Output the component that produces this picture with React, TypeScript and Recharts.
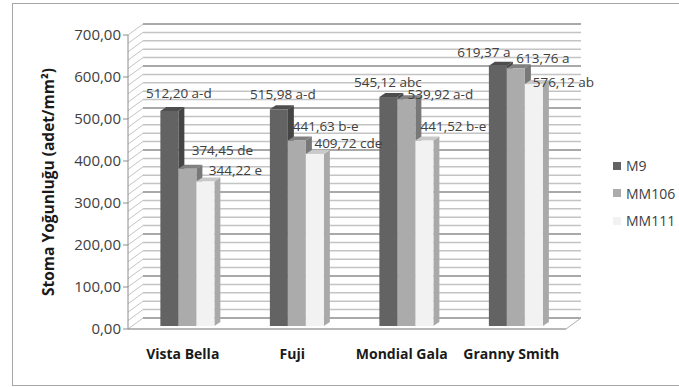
import React from 'react';
import { BarChart, Bar, XAxis, YAxis, CartesianGrid, Legend, LabelList } from 'recharts';

const cultivars = ['Vista Bella', 'Fuji', 'Mondial Gala', 'Granny Smith'];
const m9Values = [512.2, 515.98, 545.12, 619.37];
const mm106Values = [374.45, 441.63, 539.92, 613.76];
const mm111Values = [344.22, 409.72, 441.52, 576.12];
const m9Groups = ['a-d', 'a-d', 'abc', 'a'];
const mm106Groups = ['de', 'b-e', 'a-d', 'a'];
const mm111Groups = ['e', 'cde', 'b-e', 'ab'];
const yTicks = [0, 100, 200, 300, 400, 500, 600, 700];
const yMax = 700;
const gridValues = [
  0, 20, 40, 60, 80, 100, 120, 140, 160, 180, 200, 220, 240, 260, 280, 300, 320, 340, 360,
  380, 400, 420, 440, 460, 480, 500, 520, 540, 560, 580, 600, 620, 640, 660, 680, 700,
];

const chartData = cultivars.map((name, i) => ({
  name,
  m9: m9Values[i],
  mm106: mm106Values[i],
  mm111: mm111Values[i],
}));

const FONT = '"Open Sans", sans-serif';
const WALL_DX = 15;
const WALL_DY = -11;
const PLOT_BOTTOM = 329;

// label nudges per cultivar, the labels are placed by hand to dodge the neighbouring bars
const m9LabelShift = [
  [14.5, -19],
  [9, -17],
  [4.5, -17],
  [-9, -15],
];
const mm106LabelShift = [
  [40, -20],
  [33.75, -16.5],
  [39, -7],
  [32, -12],
];
const mm111LabelShift = [
  [35, -13],
  [38.5, -13],
  [34, -16.6],
  [34.5, -4],
];

const formatValue = (v: number) => v.toFixed(2).replace('.', ',');

const Bar3D = (colors: { front: string; top: string; side: string }) => (props: any) => {
  const { x, y, width, height } = props;
  // the bars stand a little inside the floor, so everything is moved up and to the right
  const left = x + 5;
  const right = left + width;
  const top = y - 3;
  const bottom = y + height - 3;
  const dx = 6;
  const dy = -4;
  return (
    <g>
      <polygon
        points={`${right},${top} ${right + dx},${top + dy} ${right + dx},${bottom + dy} ${right},${bottom}`}
        fill={colors.side}
      />
      <polygon
        points={`${left},${top} ${left + dx},${top + dy} ${right + dx},${top + dy} ${right},${top}`}
        fill={colors.top}
      />
      <rect x={left} y={top} width={width} height={height} fill={colors.front} />
    </g>
  );
};

const valueLabel = (groups: string[], shifts: number[][]) => (props: any) => {
  const { x, y, width, index, value } = props;
  const [dx, dy] = shifts[index];
  return (
    <text
      x={x + width / 2 + dx}
      y={y + dy}
      textAnchor="middle"
      dominantBaseline="middle"
      fontFamily={FONT}
      fontSize={13.5}
      fill="#404040"
    >
      {`${formatValue(value)} ${groups[index]}`}
    </text>
  );
};

// back wall line plus its diagonal on the side wall
const WallLine = (props: any) => {
  const { x1, x2, y1 } = props;
  const step = Math.round((PLOT_BOTTOM - y1) / 8.4);
  const stroke = step % 5 === 0 ? '#8c8c8c' : '#c4c4c4';
  return (
    <g>
      <line x1={x1} y1={y1} x2={x1 + WALL_DX} y2={y1 + WALL_DY} stroke="#c4c4c4" strokeWidth={1} />
      <line x1={x1 + WALL_DX} y1={y1 + WALL_DY} x2={x2 + WALL_DX} y2={y1 + WALL_DY} stroke={stroke} strokeWidth={1.5} />
      {step === 0 && (
        <line x1={x2} y1={y1} x2={x2 + WALL_DX} y2={y1 + WALL_DY} stroke="#b0b0b0" strokeWidth={1} />
      )}
    </g>
  );
};

const legendColors: Record<string, string> = { M9: '#636363', MM106: '#ababab', MM111: '#f2f2f2' };

const LegendBox = ({ payload }: any) => (
  <div style={{ fontFamily: FONT, fontSize: 14, color: '#404040' }}>
    {(payload || []).map((entry: any) => (
      <div key={entry.value} style={{ display: 'flex', alignItems: 'center', height: 27.5 }}>
        <span
          style={{ width: 8, height: 8, marginRight: 5, background: legendColors[entry.value] }}
        />
        {entry.value}
      </div>
    ))}
  </div>
);

const App: React.FC = () => {
  return (
    <div style={{ position: 'absolute', left: 0, top: 0, width: 679, height: 387, overflow: 'hidden', background: '#fff' }}>
      <div
        style={{
          position: 'absolute',
          left: 12,
          top: 3,
          width: 680,
          height: 381,
          border: '1px solid #a6a6a6',
        }}
      />
      <BarChart
        width={679}
        height={387}
        data={chartData}
        margin={{ top: 35, right: 47, bottom: 0, left: 0 }}
        barCategoryGap="25%"
        barGap={0}
        style={{ position: 'absolute', left: 0, top: 0 }}
      >
        <CartesianGrid
          vertical={false}
          horizontalCoordinatesGenerator={({ offset }: any) =>
            gridValues.map((v) => offset.top + offset.height * (1 - v / yMax))
          }
          horizontal={(p: any) => <WallLine key={p.y1} {...p} />}
        />
        <XAxis
          dataKey="name"
          height={58}
          tickLine={false}
          axisLine={{ stroke: '#a0a0a0', strokeWidth: 1.5 }}
          interval={0}
          tick={{ fontFamily: FONT, fontSize: 14, fontWeight: 700, fill: '#1a1a1a' }}
          tickMargin={14}
        />
        <YAxis
          width={128}
          domain={[0, yMax]}
          ticks={yTicks}
          tickFormatter={formatValue}
          axisLine={{ stroke: '#8c8c8c', strokeWidth: 1 }}
          tickLine={{ stroke: '#8c8c8c' }}
          tickSize={5}
          tick={{ fontFamily: FONT, fontSize: 15, fill: '#404040' }}
          label={{
            value: 'Stoma Yoğunluğu (adet/mm²)',
            angle: -90,
            position: 'insideLeft',
            offset: 48,
            style: { fontFamily: FONT, fontSize: 15.5, fontWeight: 700, fill: '#1a1a1a', textAnchor: 'middle' },
          }}
        />
        <Legend
          layout="vertical"
          align="right"
          verticalAlign="top"
          content={<LegendBox />}
          wrapperStyle={{ left: 613, top: 152, width: 66 }}
        />
        <Bar
          dataKey="m9"
          name="M9"
          fill="#636363"
          isAnimationActive={false}
          shape={Bar3D({ front: '#636363', top: '#4d4d4d', side: '#454545' })}
        >
          <LabelList dataKey="m9" content={valueLabel(m9Groups, m9LabelShift)} />
        </Bar>
        <Bar
          dataKey="mm106"
          name="MM106"
          fill="#ababab"
          isAnimationActive={false}
          shape={Bar3D({ front: '#ababab', top: '#808080', side: '#787878' })}
        >
          <LabelList dataKey="mm106" content={valueLabel(mm106Groups, mm106LabelShift)} />
        </Bar>
        <Bar
          dataKey="mm111"
          name="MM111"
          fill="#f2f2f2"
          isAnimationActive={false}
          shape={Bar3D({ front: '#f2f2f2', top: '#c9c9c9', side: '#a9a9a9' })}
        >
          <LabelList dataKey="mm111" content={valueLabel(mm111Groups, mm111LabelShift)} />
        </Bar>
      </BarChart>
    </div>
  );
};

export default App;
